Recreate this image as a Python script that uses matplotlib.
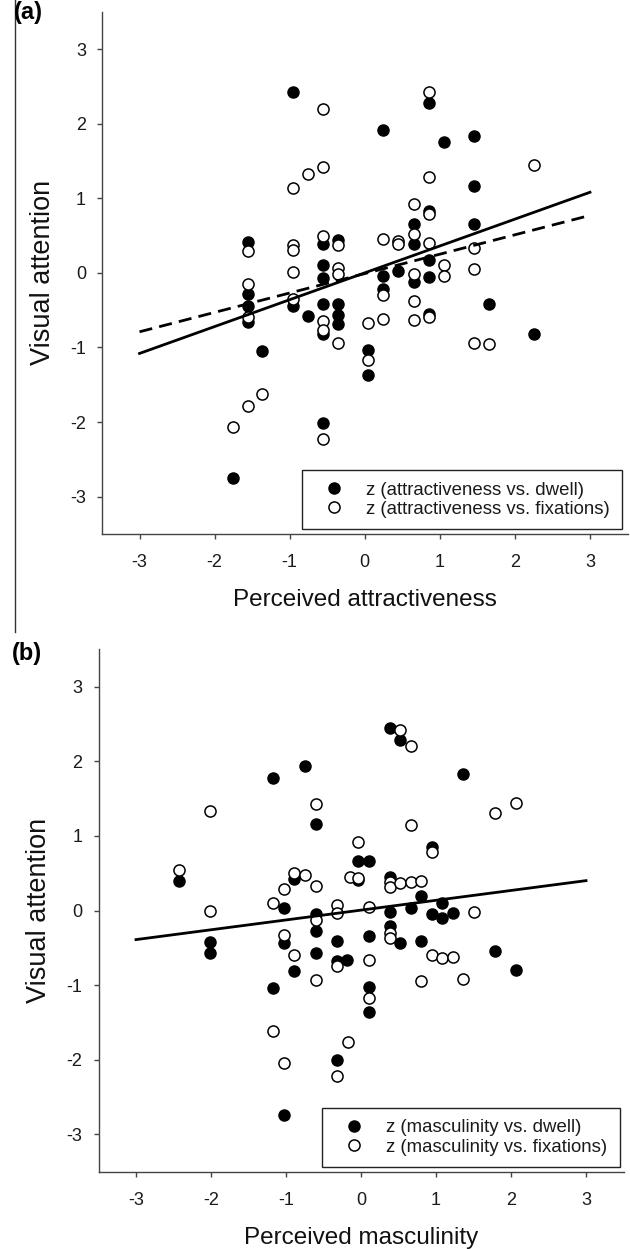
import numpy as np
import matplotlib.pyplot as plt
from matplotlib.lines import Line2D

plt.rcParams['font.family'] = ['Liberation Sans', 'DejaVu Sans']

# Panel (a): perceived attractiveness vs. visual attention (z scores)
attr_dwell_x = [-0.96, -1.56, -0.56, -0.36, -0.56, -0.56, -1.56, -1.56, -1.56, -0.96,
                -0.76, -0.56, -0.56, -0.36, -0.36, -0.36, -1.37, -0.56, -1.76, 0.85,
                0.24, 1.05, 1.45, 1.45, 0.85, 0.65, 1.45, 0.65, 0.85, 0.44,
                0.65, 0.85, 0.24, 0.24, 0.85, 1.65, 2.26, 0.04, 0.04]
attr_dwell_y = [2.43, 0.42, 0.38, 0.44, 0.10, -0.07, -0.28, -0.44, -0.66, -0.45,
                -0.58, -0.42, -0.82, -0.42, -0.57, -0.68, -1.05, -2.01, -2.75, 2.27,
                1.91, 1.76, 1.83, 1.16, 0.83, 0.65, 0.65, 0.39, 0.17, 0.03,
                -0.12, -0.06, -0.04, -0.21, -0.55, -0.42, -0.82, -1.03, -1.37]
attr_fix_x = [-0.56, -0.76, -0.56, -0.96, -1.56, -0.96, -0.96, -0.56, -0.36, -0.96,
              -0.36, -0.36, -1.56, -0.96, -1.56, -0.56, -0.56, -0.36, -1.37, -1.56,
              -1.76, -0.56, 0.85, 2.26, 0.85, 0.65, 0.85, 0.65, 0.24, 0.44,
              0.44, 0.85, 1.45, 1.45, 1.05, 1.05, 0.65, 0.24, 0.04, 0.24,
              0.65, 0.65, 0.85, 1.45, 1.65, 0.04]
attr_fix_y = [2.20, 1.33, 1.42, 1.14, 0.29, 0.37, 0.30, 0.49, 0.37, 0.01,
              0.06, -0.01, -0.15, -0.35, -0.59, -0.64, -0.76, -0.94, -1.62, -1.78,
              -2.06, -2.23, 2.43, 1.44, 1.29, 0.92, 0.79, 0.52, 0.46, 0.43,
              0.38, 0.40, 0.33, 0.05, 0.10, -0.04, -0.01, -0.30, -0.67, -0.62,
              -0.38, -0.63, -0.59, -0.94, -0.95, -1.17]

# Panel (b): perceived masculinity vs. visual attention (z scores)
masc_dwell_x = [-0.75, -1.17, -0.60, -2.43, -0.89, -1.03, -0.60, -0.60, 0.38, 0.52,
                1.36, -0.04, 0.11, 0.94, -0.04, 0.38, 0.80, 0.66, 1.08, 0.38,
                0.38, 0.94, 1.08, 1.23, 0.11, 0.11, 0.11, 0.52, 0.80, 1.79,
                2.07, -2.01, -2.01, -1.03, -0.89, -1.17, -1.03, -0.60, -0.32, -0.32,
                -0.19, -0.32]
masc_dwell_y = [1.93, 1.77, 1.16, 0.39, 0.42, 0.03, -0.05, -0.27, 2.44, 2.28,
                1.83, 0.66, 0.66, 0.85, 0.41, 0.45, 0.19, 0.03, 0.10, -0.02,
                -0.21, -0.05, -0.10, -0.04, -0.34, -1.02, -1.36, -0.44, -0.41, -0.54,
                -0.80, -0.42, -0.57, -0.44, -0.81, -1.04, -2.74, -0.57, -0.41, -0.67,
                -0.66, -2.00]
masc_fix_x = [-0.60, -2.01, -2.43, -2.01, -0.89, -0.75, -1.03, -0.60, -1.17, -0.32,
              -0.32, -0.60, -0.15, 0.52, 0.66, 2.07, 1.79, 0.66, -0.04, 0.94,
              -0.04, 0.38, 0.38, 0.52, 0.66, 0.80, 1.51, 0.11, 0.11, 0.11,
              0.38, 0.38, 0.94, 1.08, 1.23, 0.80, 1.36, -0.18, -1.03, -0.89,
              -1.17, -1.03, -0.60, -0.32, -0.32]
masc_fix_y = [1.43, 1.33, 0.54, 0.00, 0.50, 0.47, 0.29, 0.33, 0.10, 0.07,
              -0.04, -0.13, 0.45, 2.42, 2.20, 1.44, 1.30, 1.15, 0.92, 0.79,
              0.43, 0.38, 0.31, 0.37, 0.38, 0.40, -0.02, 0.05, -0.66, -1.17,
              -0.30, -0.37, -0.59, -0.63, -0.62, -0.94, -0.92, -1.76, -0.33, -0.59,
              -1.61, -2.05, -0.93, -0.75, -2.22]

# regression lines, drawn between x = -3 and x = 3
fit_x = [-3, 3]
fit_attr_dwell = [-1.08, 1.08]
fit_attr_fix = [-0.79, 0.77]
fit_masc = [-0.39, 0.40]

ticks = [-3, -2, -1, 0, 1, 2, 3]
W, H = 630, 1249
fig = plt.figure(figsize=(W / 100, H / 100), dpi=100)

ax_a = fig.add_axes([102 / W, (H - 534) / H, 525.5 / W, 522.3 / H])
ax_b = fig.add_axes([98.5 / W, (H - 1171.7) / H, 525 / W, 522.4 / H])


def style_axes(ax, xlabel):
    ax.set_xlim(-3.5, 3.5)
    ax.set_ylim(-3.5, 3.5)
    ax.set_xticks(ticks)
    ax.set_yticks(ticks)
    ax.set_xticklabels([str(t) for t in ticks])
    ax.set_yticklabels([str(t) for t in ticks])
    for side in ['top', 'right']:
        ax.spines[side].set_visible(False)
    for side in ['left', 'bottom']:
        ax.spines[side].set_linewidth(1.0)
        ax.spines[side].set_color('#444444')
    ax.tick_params(direction='out', length=3.6, width=1.0, color='#444444',
                   labelsize=13, labelcolor='#1a1a1a')
    ax.tick_params(axis='x', pad=11)
    ax.tick_params(axis='y', pad=8)
    ax.set_xlabel(xlabel, fontsize=17.5, color='#111111')
    ax.set_ylabel('Visual attention', fontsize=19.5, color='#111111')
    ax.xaxis.set_label_coords(0.5, -0.105)
    ax.yaxis.set_label_coords(-0.088, 0.5)


def add_points(ax, dx, dy, fx, fy, lab_d, lab_f):
    ax.plot(dx, dy, 'o', ls='none', ms=8.0, mfc='black', mec='black', mew=1.0,
            label=lab_d, zorder=3)
    ax.plot(fx, fy, 'o', ls='none', ms=8.0, mfc='white', mec='black', mew=1.1,
            label=lab_f, zorder=3)


def add_legend(ax, x0, w):
    leg = ax.legend(loc='lower left', bbox_to_anchor=(x0, 0.0096, w, 0.12),
                    mode='expand', borderaxespad=0, fontsize=13.4, frameon=True,
                    fancybox=False, edgecolor='#222222', framealpha=1,
                    handlelength=2.24, handletextpad=0.6, borderpad=0.6,
                    labelspacing=0.12, numpoints=1)
    leg.get_frame().set_linewidth(1.0)
    for t in leg.get_texts():
        t.set_color('#1a1a1a')


# (a)
add_points(ax_a, attr_dwell_x, attr_dwell_y, attr_fix_x, attr_fix_y,
           'z (attractiveness vs. dwell)', 'z (attractiveness vs. fixations)')
ax_a.plot(fit_x, fit_attr_dwell, color='black', lw=2.0, zorder=4)
ax_a.plot(fit_x, fit_attr_fix, color='black', lw=2.0, ls=(0, (4.7, 2.6)), zorder=4)
style_axes(ax_a, 'Perceived attractiveness')
add_legend(ax_a, 0.38, 0.609)

# (b)
add_points(ax_b, masc_dwell_x, masc_dwell_y, masc_fix_x, masc_fix_y,
           'z (masculinity vs. dwell)', 'z (masculinity vs. fixations)')
ax_b.plot(fit_x, fit_masc, color='black', lw=2.0, zorder=4)
style_axes(ax_b, 'Perceived masculinity')
add_legend(ax_b, 0.425, 0.568)

# panel letters and the thin border line at the left of the top panel
fig.text(14 / W, 1 - 1 / H, '(a)', fontsize=17, fontweight='bold', va='top', ha='left')
fig.text(12 / W, 1 - 642 / H, '(b)', fontsize=17, fontweight='bold', va='top', ha='left')
fig.add_artist(Line2D([14.5 / W, 14.5 / W], [1, 1 - 632 / H], color='#333333', lw=1.0))

fig.savefig('out.png', dpi=100)
